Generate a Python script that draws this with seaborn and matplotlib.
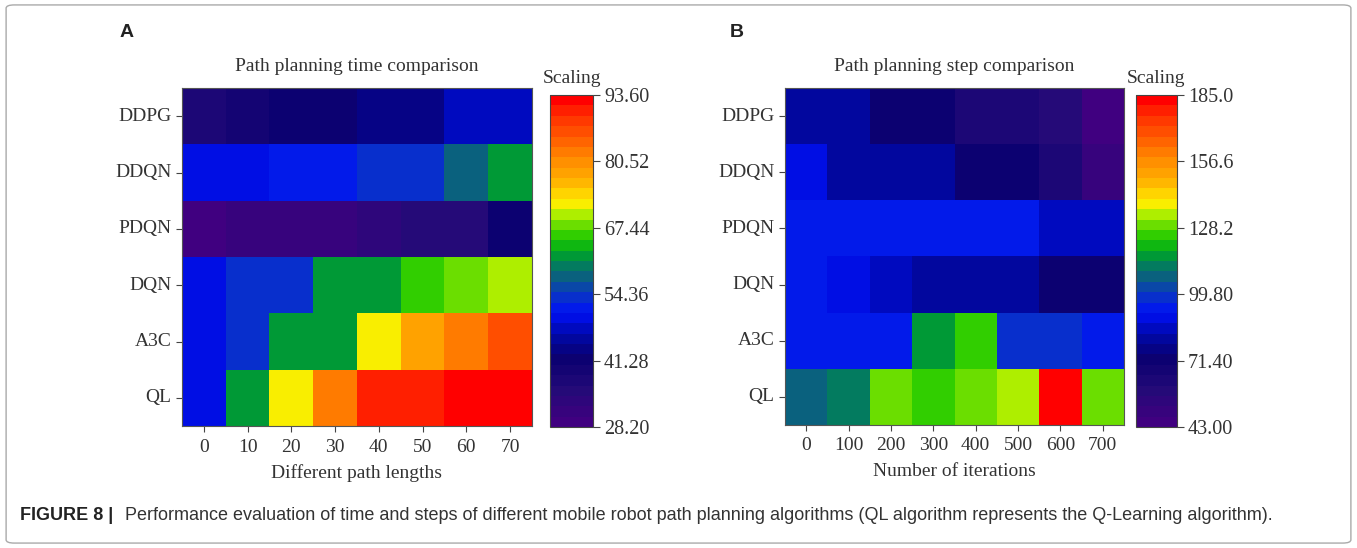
import matplotlib
matplotlib.use("Agg")
import matplotlib.pyplot as plt
import pandas as pd
import seaborn as sns
from matplotlib.colors import LinearSegmentedColormap
from matplotlib.patches import FancyBboxPatch

ALGOS = ["DDPG", "DDQN", "PDQN", "DQN", "A3C", "QL"]
PATH_LENGTHS = ["0", "10", "20", "30", "40", "50", "60", "70"]
ITERATIONS = ["0", "100", "200", "300", "400", "500", "600", "700"]

# panel A: path planning time
TIME_DDPG = [37.0, 39.2, 41.3, 41.3, 44.5, 44.5, 47.2, 47.2]
TIME_DDQN = [50.4, 50.4, 51.0, 51.0, 54.4, 54.4, 57.6, 60.9]
TIME_PDQN = [29.5, 31.5, 31.5, 31.5, 33.4, 35.4, 35.4, 40.6]
TIME_DQN = [50.4, 54.0, 54.0, 62.9, 62.9, 65.5, 67.4, 70.7]
TIME_A3C = [50.4, 54.0, 62.9, 62.9, 72.7, 79.2, 82.5, 87.0]
TIME_QL = [50.4, 62.9, 72.7, 82.5, 89.7, 89.7, 93.6, 93.6]

# panel B: path planning steps
STEP_DDPG = [82.8, 78.5, 74.0, 71.4, 62.9, 62.9, 58.6, 44.4]
STEP_DDQN = [91.3, 81.3, 78.5, 78.5, 72.8, 70.0, 61.5, 51.5]
STEP_PDQN = [94.1, 94.1, 94.1, 94.1, 92.0, 92.0, 84.2, 84.2]
STEP_DQN = [94.1, 91.3, 87.0, 82.8, 78.5, 78.5, 72.8, 70.0]
STEP_A3C = [94.1, 94.1, 94.1, 118.3, 124.0, 99.8, 99.8, 94.1]
STEP_QL = [106.9, 112.6, 128.2, 124.0, 127.5, 135.3, 185.0, 131.0]

TIME_TICKS = [28.20, 41.28, 54.36, 67.44, 80.52, 93.60]
TIME_TICKLABELS = ["28.20", "41.28", "54.36", "67.44", "80.52", "93.60"]
STEP_TICKS = [43.00, 71.40, 99.80, 128.2, 156.6, 185.0]
STEP_TICKLABELS = ["43.00", "71.40", "99.80", "128.2", "156.6", "185.0"]

CAPTION = ("Performance evaluation of time and steps of different mobile robot path "
           "planning algorithms (QL algorithm represents the Q-Learning algorithm).")

# Origin-like rainbow palette, stepped
cmap = LinearSegmentedColormap.from_list("origin_rainbow", [
    (0.00, "#400080"), (0.10, "#240a78"), (0.20, "#0a0070"), (0.27, "#0008a8"),
    (0.34, "#0010f8"), (0.40, "#0a38c0"), (0.45, "#0a6080"), (0.50, "#008850"),
    (0.53, "#00a820"), (0.57, "#20c800"), (0.60, "#50d800"), (0.65, "#b8f000"),
    (0.68, "#ffee00"), (0.75, "#ffb000"), (0.82, "#ff8800"), (0.90, "#ff5000"),
    (0.95, "#ff3000"), (1.00, "#ff0000"),
], N=32)

SERIF = ["Liberation Serif", "DejaVu Serif"]
SANS = ["Liberation Sans", "DejaVu Sans"]


def draw_panel(fig, ax_rect, cax_rect, df, ticks, ticklabels, title, xlabel, letter, letter_x):
    ax = fig.add_axes(ax_rect)
    cax = fig.add_axes(cax_rect)
    sns.heatmap(df, ax=ax, cbar_ax=cax, cmap=cmap, vmin=ticks[0], vmax=ticks[-1],
                linewidths=0)
    for sp in ax.spines.values():
        sp.set_visible(True)
        sp.set_linewidth(0.8)
        sp.set_color("#555555")
    ax.tick_params(axis="both", length=4, width=0.8, color="#444444",
                   labelsize=14, labelcolor="#333333")
    ax.tick_params(axis="x", pad=5)
    ax.set_xticklabels(df.columns, rotation=0, family=SERIF)
    ax.set_yticklabels(df.index, rotation=0, family=SERIF)
    ax.set_title(title, family=SERIF, fontsize=14, color="#333333", pad=12)
    ax.set_xlabel(xlabel, family=SERIF, fontsize=14, color="#333333", labelpad=6)
    ax.set_ylabel("")

    cbar = ax.collections[0].colorbar
    cbar.set_ticks(ticks)
    cbar.set_ticklabels(ticklabels)
    cbar.outline.set_linewidth(0.8)
    cbar.outline.set_edgecolor("#444444")
    cax.tick_params(length=5, width=0.8, color="#444444", labelsize=14.5, labelcolor="#333333",
                    pad=3)
    for lbl in cax.get_yticklabels():
        lbl.set_family(SERIF)
    cax.text(0.5, 1.025, "Scaling", transform=cax.transAxes, ha="center", va="bottom",
             family=SERIF, fontsize=14, color="#333333")

    fig.text(letter_x, 0.94, letter, family=SANS, fontsize=14, fontweight="bold",
             color="#222222", ha="left", va="center")


def main() -> None:
    time_df = pd.DataFrame([TIME_DDPG, TIME_DDQN, TIME_PDQN, TIME_DQN, TIME_A3C, TIME_QL],
                           index=ALGOS, columns=PATH_LENGTHS)
    step_df = pd.DataFrame([STEP_DDPG, STEP_DDQN, STEP_PDQN, STEP_DQN, STEP_A3C, STEP_QL],
                           index=ALGOS, columns=ITERATIONS)

    fig = plt.figure(figsize=(13.57, 5.48), dpi=100)

    border = FancyBboxPatch((0.0045, 0.009), 0.991, 0.982,
                            boxstyle="round,pad=0,rounding_size=0.006",
                            transform=fig.transFigure, facecolor="none", edgecolor="#aaaaaa",
                            linewidth=1.0)
    fig.patches.append(border)

    draw_panel(fig, [0.1341, 0.2226, 0.2579, 0.6168], [0.4053, 0.2208, 0.0317, 0.6058],
               time_df, TIME_TICKS, TIME_TICKLABELS, "Path planning time comparison",
               "Different path lengths", "A", 0.088)
    draw_panel(fig, [0.5785, 0.2245, 0.2498, 0.6150], [0.8371, 0.2208, 0.0302, 0.6058],
               step_df, STEP_TICKS, STEP_TICKLABELS, "Path planning step comparison",
               "Number of iterations", "B", 0.5375)

    fig.text(0.0147, 0.06, "FIGURE 8 |", family=SANS, fontsize=13, fontweight="bold",
             color="#222222", ha="left", va="center")
    fig.text(0.092, 0.06, CAPTION, family=SANS, fontsize=13,
             color="#333333", ha="left", va="center")

    fig.savefig("out.png", dpi=100)
    plt.close(fig)


if __name__ == "__main__":
    main()
